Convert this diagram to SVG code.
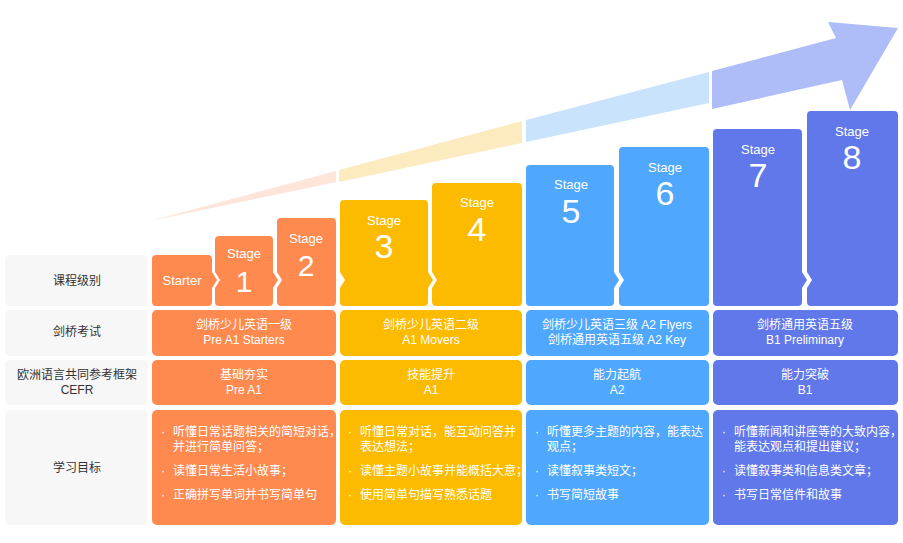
<svg xmlns="http://www.w3.org/2000/svg" width="903" height="543" viewBox="0 0 903 543">
<style>
text{font-family:"Liberation Sans","Noto Sans CJK SC",sans-serif;fill:#fff}
.lab{fill:#333;font-size:12px;text-anchor:middle}
.c{font-size:12px;text-anchor:middle}
.b{font-size:12px}
.st{font-size:13px;text-anchor:middle}
.n{font-size:34px;text-anchor:middle}
.o{fill:#ff8a50}.y{fill:#fdbb00}.bl{fill:#4fa8fd}.p{fill:#6178ea}
.g{fill:#f7f7f7}
</style>
<g id="arrow">
<polygon points="150,221 336,171 336,182" fill="#fde5da"/>
<polygon points="339,170 522,121 522,143 339,182" fill="#fdebc0"/>
<polygon points="526,120 709,72 709,103 526,142" fill="#c9e3fc"/>
<polygon points="712,71 836,38 828,22 898,28 850,110 842,80 712,109" fill="#aebdf7"/>
</g>
<g id="labels">
<rect class="g" x="5" y="255" width="143" height="51" rx="5"/>
<rect class="g" x="5" y="310" width="143" height="46" rx="5"/>
<rect class="g" x="5" y="360" width="143" height="45" rx="5"/>
<rect class="g" x="5" y="410" width="143" height="115" rx="5"/>
<text class="lab" x="77" y="285">课程级别</text>
<text class="lab" x="77" y="336">剑桥考试</text>
<text class="lab" x="77" y="379">欧洲语言共同参考框架</text>
<text class="lab" x="77" y="394">CEFR</text>
<text class="lab" x="77" y="472">学习目标</text>
</g>
<g id="stages">
<path class="o" d="M152,259 Q152,255 156,255 H208 Q212,255 212,259 V272 L217,280 L212,288 V302 Q212,306 208,306 H156 Q152,306 152,302 Z"/>
<text class="st" x="182" y="285">Starter</text>
<path class="o" d="M215,240 Q215,236 219,236 H269 Q273,236 273,240 V272 L278,280 L273,288 V302 Q273,306 269,306 H219 Q215,306 215,302 V288 L220,280 L215,272 Z"/>
<text class="st" x="244" y="258">Stage</text><text class="n" x="244" y="292" style="font-size:30px">1</text>
<path class="o" d="M277,222 Q277,218 281,218 H332 Q336,218 336,222 V302 Q336,306 332,306 H281 Q277,306 277,302 V288 L282,280 L277,272 Z"/>
<text class="st" x="306" y="243">Stage</text><text class="n" x="306" y="276" style="font-size:30px">2</text>
<path class="y" d="M340,204 Q340,200 344,200 H424 Q428,200 428,204 V272 L433,280 L428,288 V302 Q428,306 424,306 H344 Q340,306 340,302 V288 L345,280 L340,272 Z"/>
<text class="st" x="384" y="225">Stage</text><text class="n" x="384" y="258">3</text>
<path class="y" d="M432,187 Q432,183 436,183 H518 Q522,183 522,187 V302 Q522,306 518,306 H436 Q432,306 432,302 V288 L437,280 L432,272 Z"/>
<text class="st" x="477" y="207">Stage</text><text class="n" x="477" y="241">4</text>
<path class="bl" d="M526,169 Q526,165 530,165 H610 Q614,165 614,169 V272 L619,280 L614,288 V302 Q614,306 610,306 H530 Q526,306 526,302 Z"/>
<text class="st" x="571" y="189">Stage</text><text class="n" x="571" y="223">5</text>
<path class="bl" d="M619,151 Q619,147 623,147 H705 Q709,147 709,151 V302 Q709,306 705,306 H623 Q619,306 619,302 V288 L624,280 L619,272 Z"/>
<text class="st" x="665" y="172">Stage</text><text class="n" x="665" y="205">6</text>
<path class="p" d="M713,133 Q713,129 717,129 H798 Q802,129 802,133 V272 L807,280 L802,288 V302 Q802,306 798,306 H717 Q713,306 713,302 Z"/>
<text class="st" x="758" y="154">Stage</text><text class="n" x="758" y="187">7</text>
<path class="p" d="M807,115 Q807,111 811,111 H894 Q898,111 898,115 V302 Q898,306 894,306 H811 Q807,306 807,302 V288 L812,280 L807,272 Z"/>
<text class="st" x="852" y="136">Stage</text><text class="n" x="852" y="169">8</text>
</g>
<g id="exam">
<rect class="o" x="152" y="310" width="184" height="46" rx="5"/>
<rect class="y" x="340" y="310" width="182" height="46" rx="5"/>
<rect class="bl" x="526" y="310" width="183" height="46" rx="5"/>
<rect class="p" x="713" y="310" width="185" height="46" rx="5"/>
<text class="c" x="244" y="329">剑桥少儿英语一级</text><text class="c" x="244" y="344">Pre A1 Starters</text>
<text class="c" x="431" y="329">剑桥少儿英语二级</text><text class="c" x="431" y="344">A1 Movers</text>
<text class="c" x="617" y="329">剑桥少儿英语三级 A2 Flyers</text><text class="c" x="617" y="344">剑桥通用英语五级 A2 Key</text>
<text class="c" x="805" y="329">剑桥通用英语五级</text><text class="c" x="805" y="344">B1 Preliminary</text>
</g>
<g id="cefr">
<rect class="o" x="152" y="360" width="184" height="45" rx="5"/>
<rect class="y" x="340" y="360" width="182" height="45" rx="5"/>
<rect class="bl" x="526" y="360" width="183" height="45" rx="5"/>
<rect class="p" x="713" y="360" width="185" height="45" rx="5"/>
<text class="c" x="244" y="379">基础夯实</text><text class="c" x="244" y="394">Pre A1</text>
<text class="c" x="431" y="379">技能提升</text><text class="c" x="431" y="394">A1</text>
<text class="c" x="617" y="379">能力起航</text><text class="c" x="617" y="394">A2</text>
<text class="c" x="805" y="379">能力突破</text><text class="c" x="805" y="394">B1</text>
</g>
<g id="goals">
<rect class="o" x="152" y="410" width="184" height="115" rx="5"/>
<rect class="y" x="340" y="410" width="182" height="115" rx="5"/>
<rect class="bl" x="526" y="410" width="183" height="115" rx="5"/>
<rect class="p" x="713" y="410" width="185" height="115" rx="5"/>
<text class="b" x="161" y="436">· </text><text class="b" x="173" y="436">听懂日常话题相关的简短对话，</text><text class="b" x="173" y="451">并进行简单问答；</text>
<text class="b" x="161" y="475">· </text><text class="b" x="173" y="475">读懂日常生活小故事；</text>
<text class="b" x="161" y="499">· </text><text class="b" x="173" y="499">正确拼写单词并书写简单句</text>
<text class="b" x="348" y="436">· </text><text class="b" x="360" y="436">听懂日常对话，能互动问答并</text><text class="b" x="360" y="451">表达想法；</text>
<text class="b" x="348" y="475">· </text><text class="b" x="360" y="475">读懂主题小故事并能概括大意；</text>
<text class="b" x="348" y="499">· </text><text class="b" x="360" y="499">使用简单句描写熟悉话题</text>
<text class="b" x="535" y="436">· </text><text class="b" x="547" y="436">听懂更多主题的内容，能表达</text><text class="b" x="547" y="451">观点；</text>
<text class="b" x="535" y="475">· </text><text class="b" x="547" y="475">读懂叙事类短文；</text>
<text class="b" x="535" y="499">· </text><text class="b" x="547" y="499">书写简短故事</text>
<text class="b" x="722" y="436">· </text><text class="b" x="734" y="436">听懂新闻和讲座等的大致内容，</text><text class="b" x="734" y="451">能表达观点和提出建议；</text>
<text class="b" x="722" y="475">· </text><text class="b" x="734" y="475">读懂叙事类和信息类文章；</text>
<text class="b" x="722" y="499">· </text><text class="b" x="734" y="499">书写日常信件和故事</text>
</g>
</svg>
